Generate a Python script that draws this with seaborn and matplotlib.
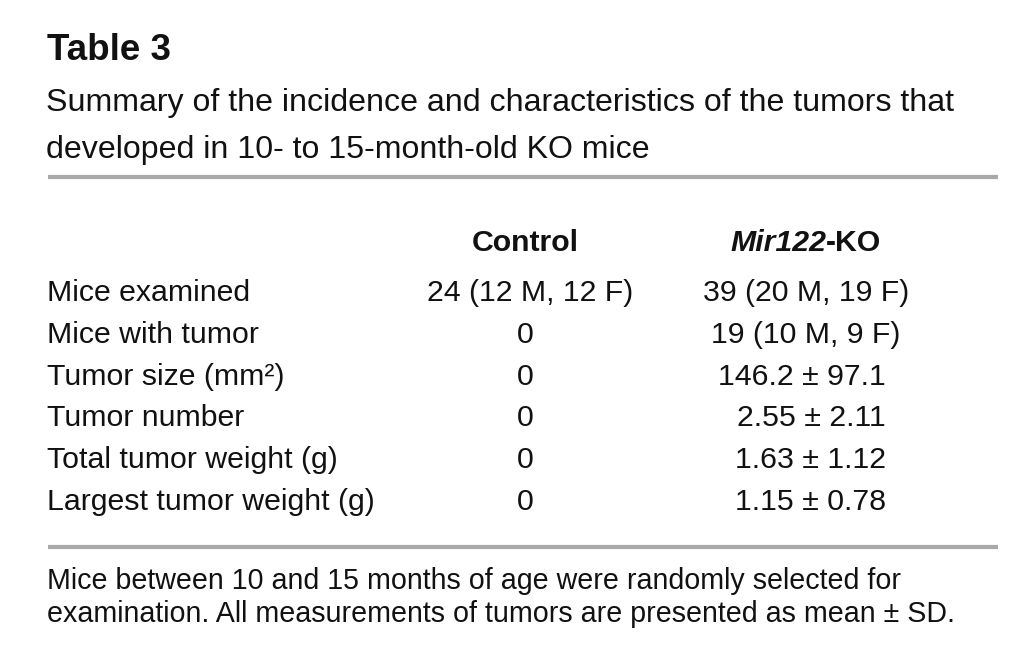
import matplotlib
matplotlib.use("Agg")
import matplotlib.pyplot as plt
import seaborn as sns

title = "Table 3"
subtitle = ["Summary of the incidence and characteristics of the tumors that",
            "developed in 10- to 15-month-old KO mice"]
col_headers = ["Control", "Mir122", "-KO"]
row_labels = ["Mice examined", "Mice with tumor", "Tumor size (mm²)",
              "Tumor number", "Total tumor weight (g)", "Largest tumor weight (g)"]
control_vals = ["24 (12 M, 12 F)", "0", "0", "0", "0", "0"]
ko_vals = ["39 (20 M, 19 F)", "19 (10 M, 9 F)", "146.2 ± 97.1",
           "2.55 ± 2.11", "1.63 ± 1.12", "1.15 ± 0.78"]
footnote = ["Mice between 10 and 15 months of age were randomly selected for",
            "examination. All measurements of tumors are presented as mean ± SD."]

sns.set_theme(style="white")
fam = "Liberation Sans"
plt.rcParams["font.family"] = [fam, "DejaVu Sans"]
plt.rcParams["text.color"] = "#111111"

fig = plt.figure(figsize=(10.18, 6.70), dpi=100)
ax = fig.add_axes([0, 0, 1, 1])
ax.set_xlim(0, 1018)
ax.set_ylim(670, 0)
ax.axis("off")

ax.text(47, 50, title, fontsize=26.5, fontweight="bold", va="center", ha="left")
for i, s in enumerate(subtitle):
    ax.text(46, 103 + 47 * i, s, fontsize=23.1, va="center", ha="left")
ax.hlines([177, 547], 48, 998, color="#a9a9a9", lw=3)

body = 21.8
ax.text(525, 243, col_headers[0], fontsize=body, fontweight="bold", ha="center", va="center")
# Mir122-KO header: italic part followed by upright "-KO"
fig.canvas.draw()
r = fig.canvas.get_renderer()
t1 = ax.text(0, 243, col_headers[1], fontsize=body, fontweight="bold", fontstyle="italic",
             ha="left", va="center")
t2 = ax.text(0, 243, col_headers[2], fontsize=body, fontweight="bold", ha="left", va="center")
w1 = t1.get_window_extent(r).width
w2 = t2.get_window_extent(r).width
x0 = 806 - (w1 + w2) / 2
t1.set_x(x0)
t2.set_x(x0 + w1)

for i, (lab, c, k) in enumerate(zip(row_labels, control_vals, ko_vals)):
    y = 293 + 41.8 * i
    ax.text(47, y, lab, fontsize=body, ha="left", va="center")
    ax.text(530 if i == 0 else 525, y, c, fontsize=body, ha="center", va="center")
    if "±" in k:
        ax.text(886, y, k, fontsize=body, ha="right", va="center")
    else:
        ax.text(806, y, k, fontsize=body, ha="center", va="center")

for i, s in enumerate(footnote):
    ax.text(47, 581 + 32.5 * i, s, fontsize=20.6, ha="left", va="center")

fig.savefig("out.png", dpi=100)
